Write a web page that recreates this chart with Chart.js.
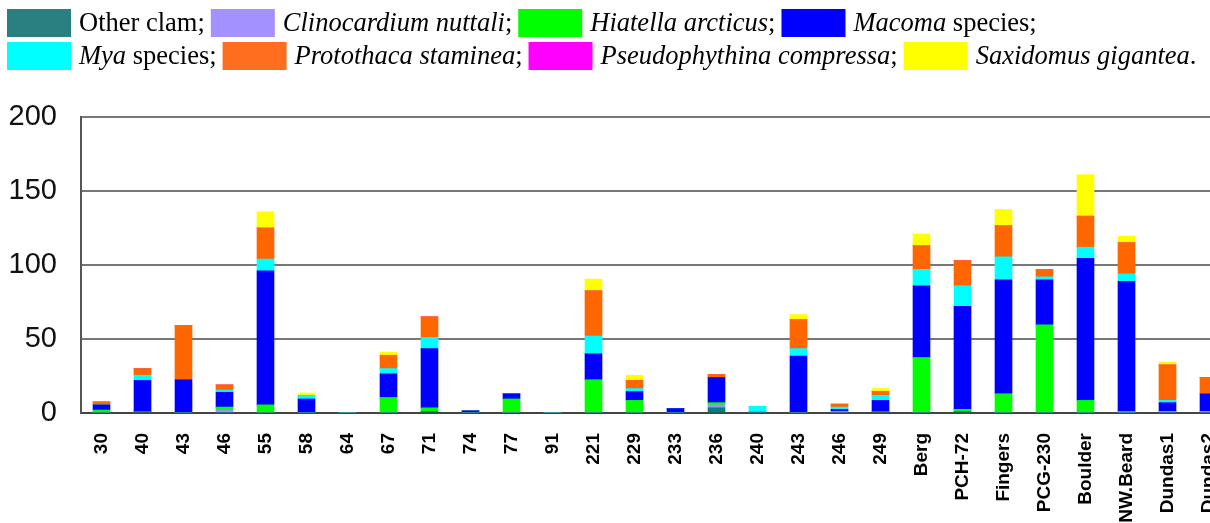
<!DOCTYPE html>
<html>
<head>
<meta charset="utf-8">
<script src="https://cdn.jsdelivr.net/npm/chart.js@4.4.1/dist/chart.umd.min.js"></script>
<style>
  html, body { margin: 0; padding: 0; background: #fff; overflow: hidden; }
  canvas { position: absolute; left: 0; top: 0; }
</style>
</head>
<body>
<canvas id="clamChart" width="1229" height="523"></canvas>
<script>
// sites along the x axis
const sites = ['30','40','43','46','55','58','64','67','71','74','77','91','221','229','233','236','240','243','246','249','Berg','PCH-72','Fingers','PCG-230','Boulder','NW.Beard','Dundas1','Dundas2'];

// counts per species, one value per site (stacked bottom to top)
const otherClam      = [0,1,0,0,0,0,0,0,1,0,0,0,0,0,0,3.5,0,0,0,1,0,1,0,0,0,0,0,0];
const clinocardium   = [0,0,0,2,0,0,0,0,0,0,0,0,0,0,0,2,1,0,1,0,0,0,0,0,0,0,1,1];
const hiatella       = [2,0,0,2,5.5,0,0,10.5,2.5,0,9.5,0,22.5,8.5,0,1.5,0,0,0,0,37.5,1.5,13,59.5,8.5,1,0,0];
const macoma         = [3.5,21,22.5,10,90.5,9.5,0,16,40,1.5,3.5,0,17.5,6,3,17,0,38.5,1.5,7.5,48.5,69.5,77,30.5,96,88,6,12];
const mya            = [0,3.5,0,1.5,8,2,0,3.5,7.5,0,0,0,12,2,0,0,3.5,5,1.5,3.5,11,14,15.5,2,7.5,5,1.5,0];
const protothaca     = [2,4.5,36.5,3.5,21,0,0,9,14,0,0,0,30.5,5.5,0,2,0,19.5,2,2.5,16,17,21,5,21,21,24,11];
const pseudophythina = [0,0,0,0,0,0,0,0,0,0,0,0,0,0,0,0,0,0,0,0,0,0,0,0,0,0,0,0];
const saxidomus      = [0,0,0,0,11,2,0,2,0,0,0,0,8,3.5,0,0,0,3.5,0,2,8,0,11,0,28,4.5,2,0];

const yTicks = [0, 50, 100, 150, 200];

const species = [
  { name: 'Other clam', italic: '', rest: 'Other clam', data: otherClam, bar: '#008080', key: '#2a8080' },
  { name: 'Clinocardium nuttali', italic: 'Clinocardium nuttali', rest: '', data: clinocardium, bar: '#9f8fff', key: '#a391ff' },
  { name: 'Hiatella arcticus', italic: 'Hiatella arcticus', rest: '', data: hiatella, bar: '#00ff00', key: '#00ff00' },
  { name: 'Macoma species', italic: 'Macoma', rest: ' species', data: macoma, bar: '#0000ff', key: '#0000ff' },
  { name: 'Mya species', italic: 'Mya', rest: ' species', data: mya, bar: '#00ffff', key: '#00ffff' },
  { name: 'Protothaca staminea', italic: 'Protothaca staminea', rest: '', data: protothaca, bar: '#ff6600', key: '#ff6d1e' },
  { name: 'Pseudophythina compressa', italic: 'Pseudophythina compressa', rest: '', data: pseudophythina, bar: '#ff00ff', key: '#ff00ff' },
  { name: 'Saxidomus gigantea', italic: 'Saxidomus gigantea', rest: '', data: saxidomus, bar: '#ffff00', key: '#ffff00' }
];

// two-row key across the top, species names in italics
const speciesKey = {
  id: 'speciesKey',
  afterDraw(chart) {
    const ctx = chart.ctx;
    const reg = '26.5px "Liberation Serif"', ita = 'italic 26.5px "Liberation Serif"';
    ctx.save();
    ctx.textBaseline = 'alphabetic';
    [species.slice(0, 4), species.slice(4)].forEach((grp, r) => {
      let x = 7;
      const top = 9 + r * 33;
      grp.forEach((s, i) => {
        ctx.fillStyle = s.key;
        ctx.fillRect(x, top, 64, 28);
        x += 72;
        ctx.fillStyle = '#000';
        if (s.italic) { ctx.font = ita; ctx.fillText(s.italic, x, top + 22); x += ctx.measureText(s.italic).width; }
        ctx.font = reg;
        const tail = s.rest + ((r === 1 && i === grp.length - 1) ? '.' : ';');
        ctx.fillText(tail, x, top + 22);
        x += ctx.measureText(tail).width + 6;
      });
    });
    ctx.restore();
  }
};

// vertical site names under the x axis, placed at each tick of the category scale
const siteLabels = {
  id: 'siteLabels',
  afterDraw(chart) {
    const sc = chart.scales.x, ctx = chart.ctx;
    ctx.save();
    ctx.font = 'bold 19px "Liberation Sans"';
    ctx.fillStyle = '#000';
    ctx.textAlign = 'right';
    ctx.textBaseline = 'middle';
    sites.forEach((s, i) => {
      ctx.save();
      ctx.translate(sc.getPixelForTick(i), sc.top + 20);
      ctx.rotate(-Math.PI / 2);
      ctx.fillText(s, 0, 0);
      ctx.restore();
    });
    ctx.restore();
  }
};

new Chart(document.getElementById('clamChart'), {
  type: 'bar',
  data: {
    labels: sites,
    datasets: species.map(s => ({ label: s.name, data: s.data, backgroundColor: s.bar, barThickness: 17 }))
  },
  options: {
    responsive: false,
    animation: false,
    layout: { padding: { top: 117, left: 0, right: 0, bottom: 0 } },
    plugins: { legend: { display: false }, tooltip: { enabled: false } },
    scales: {
      x: {
        stacked: true,
        grid: { display: false, drawTicks: false },
        border: { color: '#444', width: 2 },
        ticks: { display: false },
        afterFit: s => { s.height = 110; }
      },
      y: {
        stacked: true,
        min: 0, max: 200,
        afterBuildTicks: s => { s.ticks = yTicks.map(v => ({ value: v })); },
        grid: { color: '#777', lineWidth: 2, drawTicks: false },
        border: { color: '#555', width: 2 },
        ticks: { padding: 24, color: '#111', font: { family: 'Liberation Sans', size: 29 } },
        afterFit: s => { s.width = 81; }
      }
    }
  },
  plugins: [speciesKey, siteLabels]
});
</script>
</body>
</html>
